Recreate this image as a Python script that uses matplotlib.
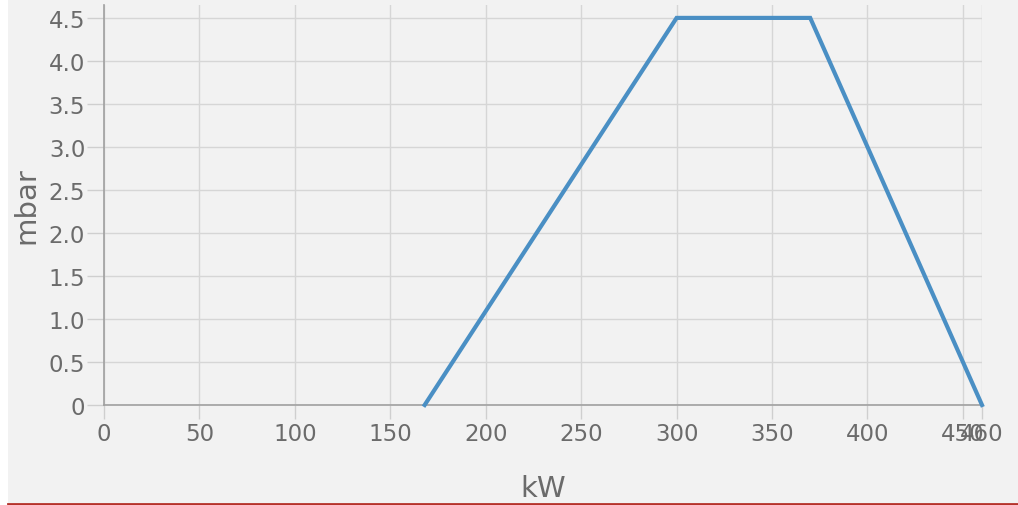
import matplotlib.pyplot as plt
from matplotlib.patches import Rectangle
from matplotlib.lines import Line2D

power_kw = [168, 300, 370, 460]
pressure_mbar = [0, 4.5, 4.5, 0]
x_ticks = [0, 50, 100, 150, 200, 250, 300, 350, 400, 450, 460]
y_ticks = [0, 0.5, 1.0, 1.5, 2.0, 2.5, 3.0, 3.5, 4.0, 4.5]
y_labels = ["0", "0.5", "1.0", "1.5", "2.0", "2.5", "3.0", "3.5", "4.0", "4.5"]


def main() -> None:
    bg = "#f2f2f2"
    txt = "#6b6b6b"
    fig = plt.figure(figsize=(10.18, 5.06), dpi=100, facecolor="white")
    # grey panel with thin white strip left and red rule at the bottom
    fig.patches.append(Rectangle((8 / 1018, 0), 1, 1, transform=fig.transFigure,
                                 facecolor=bg, edgecolor="none", zorder=-5))
    fig.lines.append(Line2D([8 / 1018, 1], [1 / 506, 1 / 506], transform=fig.transFigure,
                            color="#b5322a", linewidth=2, zorder=-4))

    ax = fig.add_axes([104 / 1018, 1 - 406 / 506, (982 - 104) / 1018, 400 / 506])
    ax.set_zorder(2)
    ax.set_facecolor(bg)
    ax.plot(power_kw, pressure_mbar, color="#4a8fc4", linewidth=3, solid_joinstyle="miter",
            clip_on=False, zorder=3)

    ax.set_xlim(0, 460)
    ax.set_ylim(0, 4.65)
    ax.set_xticks(x_ticks)
    ax.set_yticks(y_ticks)
    ax.set_yticklabels(y_labels)
    ax.grid(True, color="#d6d6d6", linewidth=1)
    ax.tick_params(axis="x", colors="#cfcfcf", length=10, width=1,
                   labelcolor=txt, labelsize=16.5, pad=2)
    ax.tick_params(axis="y", colors="#cfcfcf", length=12.5, width=1,
                   labelcolor=txt, labelsize=16.5, pad=1)
    for side in ["top", "right"]:
        ax.spines[side].set_visible(False)
    for side in ["left", "bottom"]:
        ax.spines[side].set_color("#a0a0a0")
        ax.spines[side].set_linewidth(1.2)

    ax.set_xlabel("kW", fontsize=21, color=txt, labelpad=21)
    ax.set_ylabel("mbar", fontsize=21, color=txt, labelpad=6)

    fig.savefig("out.png", dpi=100, facecolor=fig.get_facecolor())


if __name__ == '__main__':
    main()
